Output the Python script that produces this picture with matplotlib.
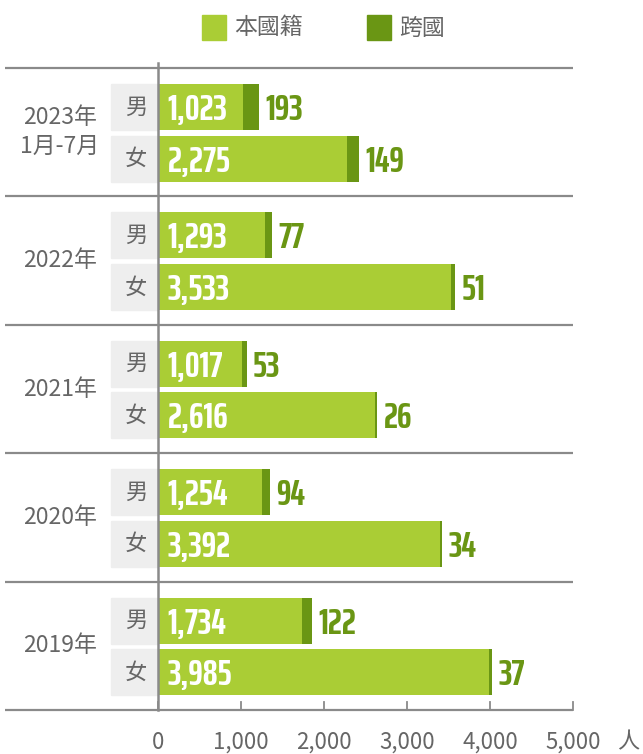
import matplotlib
matplotlib.use("Agg")
import matplotlib.pyplot as plt
from matplotlib.patches import Rectangle
from matplotlib import font_manager as fm
from matplotlib.font_manager import FontProperties
from matplotlib.textpath import TextPath

plt.rcParams['font.family'] = ['Noto Sans CJK TC', 'DejaVu Sans']

groups = ["2023年\n1月-7月", "2022年", "2021年", "2020年", "2019年"]
genders = ["男", "女"]
domestic_male = [1023, 1293, 1017, 1254, 1734]
domestic_female = [2275, 3533, 2616, 3392, 3985]
cross_male = [193, 77, 53, 94, 122]
cross_female = [149, 51, 26, 34, 37]
xticks = [0, 1000, 2000, 3000, 4000, 5000]
xtick_labels = ["0", "1,000", "2,000", "3,000", "4,000", "5,000"]
legend_labels = ["本國籍", "跨國"]
unit = "人"

LIGHT = "#aacd35"
DARK = "#6a9614"
GRAY = "#666666"
LINE = "#8a8a8a"
BOX = "#eeeeee"

W, H = 643, 754
DPI = 100
fig = plt.figure(figsize=(W / DPI, H / DPI), dpi=DPI)


def fx(px):
    return px / W


def fy(py):
    return 1 - py / H


def measure(prop, s, size=100):
    tp = TextPath((0, 0), s, prop=prop, size=size)
    e = tp.get_extents()
    return e.width * DPI / 72.0, e.height * DPI / 72.0


def _weight(f):
    w = f.weight
    if isinstance(w, str):
        table = {"normal": 400, "regular": 400, "book": 400, "medium": 500,
                 "semibold": 600, "demibold": 600, "bold": 700, "extra bold": 800,
                 "heavy": 800, "black": 900, "light": 300, "ultralight": 200}
        return table.get(w.lower(), 400)
    return w


def _is_condensed(f):
    n = (f.name + " " + f.fname).lower()
    st = f.stretch
    cond_name = ("condensed" in n) or ("narrow" in n) or ("compressed" in n)
    cond_st = (isinstance(st, str) and ("condensed" in st)) or (isinstance(st, (int, float)) and st < 500)
    return cond_name or cond_st


TARGET_RATIO = 61.0 / 26.0  # width of "1,023" over digit height


def _pick(min_w, max_w):
    best, best_d = None, 1e9
    for f in fm.fontManager.ttflist:
        if not _is_condensed(f):
            continue
        wt = _weight(f)
        fn = f.fname.lower()
        if "italic" in fn or "oblique" in fn:
            continue
        if wt < min_w or wt > max_w:
            continue
        try:
            p = FontProperties(fname=f.fname)
            w, _ = measure(p, "1,023")
            _, h = measure(p, "0123")
            d = abs(w / h - TARGET_RATIO)
        except Exception:
            continue
        if d < best_d:
            best_d, best = d, f
    return best


best = _pick(700, 750) or _pick(600, 850) or _pick(500, 900)
if best is not None:
    num_prop = FontProperties(fname=best.fname)
else:
    num_prop = FontProperties(family='DejaVu Sans', weight='bold')

w100, _ = measure(num_prop, "1,023")
_, h100 = measure(num_prop, "0123")
size_h = 100 * 26.0 / h100
size_w = 100 * 70.0 / w100
num_size = min(size_h, size_w)
num_prop.set_size(num_size)
digit_h_px = h100 * num_size / 100

ax = fig.add_axes([fx(158), fy(710), fx(573) - fx(158), fy(68) - fy(710)])
ax.set_xlim(0, 5000)
ax.set_ylim(len(groups), 0)
for s in ax.spines.values():
    s.set_visible(False)
ax.set_yticks([])
ax.set_xticks([])

px_per_unit_y = (710 - 68) / len(groups)
base_off = (digit_h_px / 2) / px_per_unit_y

bar_h = 0.358
offsets = [0.304, 0.705]
for i, g in enumerate(groups):
    data = [(domestic_male[i], cross_male[i]), (domestic_female[i], cross_female[i])]
    for j, (d, c) in enumerate(data):
        yc = i + offsets[j]
        ax.barh(yc, d, height=bar_h, color=LIGHT, left=0)
        ax.barh(yc, c, height=bar_h, color=DARK, left=d)
        ax.text(115, yc + base_off, f"{d:,}", color="white", va="baseline", ha="left",
                fontproperties=num_prop)
        ax.text(d + c + 75, yc + base_off, f"{c:,}", color=DARK, va="baseline", ha="left",
                fontproperties=num_prop)
        box = Rectangle((-566, yc - bar_h / 2), 548, bar_h, color=BOX, clip_on=False)
        ax.add_patch(box)
        ax.text(-265, yc, genders[j], color=GRAY, fontsize=16, va="center", ha="center")
    ax.text(-1185, i + 0.5, g, color=GRAY, fontsize=16.5, va="center", ha="center",
            linespacing=1.3)

for k in range(len(groups) + 1):
    ax.plot([-1840, 5000], [k, k], color=LINE, lw=1.6, clip_on=False, solid_capstyle='butt')
ax.plot([0, 0], [-0.04, len(groups)], color=LINE, lw=1.8, clip_on=False)
for t, lab in zip(xticks, xtick_labels):
    ax.plot([t, t], [len(groups) - 0.06, len(groups)], color=LINE, lw=1.3, clip_on=False)
    ax.text(t, len(groups) + 0.25, lab, color=GRAY, fontsize=16, ha="center", va="center")
ax.text(5660, len(groups) + 0.25, unit, color=GRAY, fontsize=16, ha="center", va="center")

fig.patches.append(Rectangle((fx(202), fy(40)), fx(226) - fx(202), fy(15) - fy(40),
                             color=LIGHT, transform=fig.transFigure))
fig.text(fx(234), fy(28), legend_labels[0], color=GRAY, fontsize=16.5, va="center", ha="left")
fig.patches.append(Rectangle((fx(367), fy(40)), fx(391) - fx(367), fy(15) - fy(40),
                             color=DARK, transform=fig.transFigure))
fig.text(fx(399), fy(28), legend_labels[1], color=GRAY, fontsize=16.5, va="center", ha="left")

fig.savefig("out.png", dpi=DPI)
